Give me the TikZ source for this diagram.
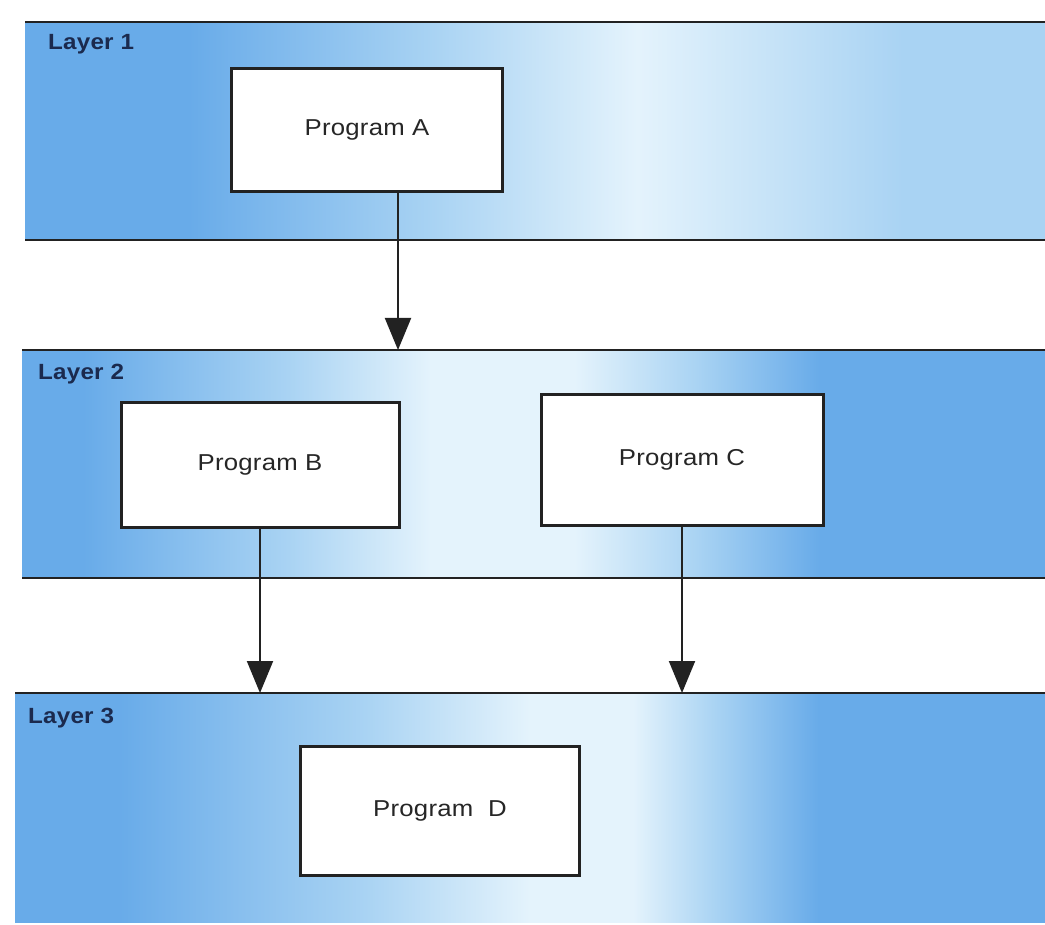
\documentclass[tikz,border=0pt]{standalone}
\usepackage{fontspec}
\setmainfont{Liberation Sans}
\usetikzlibrary{arrows.meta}
\definecolor{bandblue}{HTML}{68ABE9}
\definecolor{bandmid}{HTML}{A9D3F3}
\definecolor{bandlight}{HTML}{E4F3FC}
\definecolor{inkline}{HTML}{222222}
\definecolor{labelink}{HTML}{1B2A4E}
% horizontal fills of the three layer bands (path spans 25bp..75bp)
\pgfdeclarehorizontalshading{bandone}{100bp}{color(0bp)=(bandblue); color(33bp)=(bandblue);
  color(45bp)=(bandmid); color(55bp)=(bandlight); color(68bp)=(bandmid); color(100bp)=(bandmid)}
\pgfdeclarehorizontalshading{bandtwo}{100bp}{color(0bp)=(bandblue); color(28bp)=(bandblue);
  color(38bp)=(bandmid); color(45bp)=(bandlight); color(52bp)=(bandlight); color(58bp)=(bandmid);
  color(64bp)=(bandblue); color(100bp)=(bandblue)}
\pgfdeclarehorizontalshading{bandthree}{100bp}{color(0bp)=(bandblue); color(30bp)=(bandblue);
  color(42bp)=(bandmid); color(50bp)=(bandlight); color(55bp)=(bandlight); color(59bp)=(bandmid);
  color(64bp)=(bandblue); color(100bp)=(bandblue)}
\begin{document}
\begin{tikzpicture}[x=1pt,y=-1pt,
  prog/.style={draw=inkline, line width=3pt, fill=white, text=black!85,
    font=\fontsize{23}{26}\selectfont\addfontfeature{FakeStretch=1.12,LetterSpace=1}, inner sep=0pt},
  layerlabel/.style={anchor=base west, text=labelink, inner sep=0pt,
    font=\fontsize{22}{24}\selectfont\bfseries\addfontfeature{FakeStretch=1.1,LetterSpace=1}},
  edge/.style={draw=inkline, line width=2pt},
  arr/.style={draw=inkline, line width=2pt,
    -{Triangle[length=32pt,width=26pt]}}]
  \useasboundingbox (0,0) rectangle (1045,925);
  \fill[white] (0,0) rectangle (1045,925);

  % layer bands
  \shade[shading=bandone] (25,22) rectangle (1045,240);
  \shade[shading=bandtwo] (22,350) rectangle (1045,578);
  \shade[shading=bandthree] (15,693) rectangle (1045,922);
  \draw[edge] (25,22) -- (1045,22);
  \draw[edge] (25,240) -- (1045,240);
  \draw[edge] (22,350) -- (1045,350);
  \draw[edge] (22,578) -- (1045,578);
  \draw[edge] (15,693) -- (1045,693);

  % layer titles
  \node[layerlabel] (l1) at (48,50) {Layer 1};
  \node[layerlabel] (l2) at (38,380) {Layer 2};
  \node[layerlabel] (l3) at (28,723) {Layer 3};

  % programs
  \node[prog, minimum width=271pt, minimum height=123pt] (A) at (367,130) {Program A};
  \node[prog, minimum width=278pt, minimum height=125pt] (B) at (260,465) {Program B};
  \node[prog, minimum width=282pt, minimum height=130pt] (C) at (682,460) {Program C};
  \node[prog, minimum width=279pt, minimum height=129pt] (D) at (440,811) {Program\ \ D};

  % arrow ends on the layer boundaries
  \coordinate (tA) at (398,350);
  \coordinate (tB) at (260,693);
  \coordinate (tC) at (682,693);
  \draw[arr] (A.south -| tA) -- (tA);
  \draw[arr] (B.south -| tB) -- (tB);
  \draw[arr] (C.south -| tC) -- (tC);
\end{tikzpicture}
\end{document}
